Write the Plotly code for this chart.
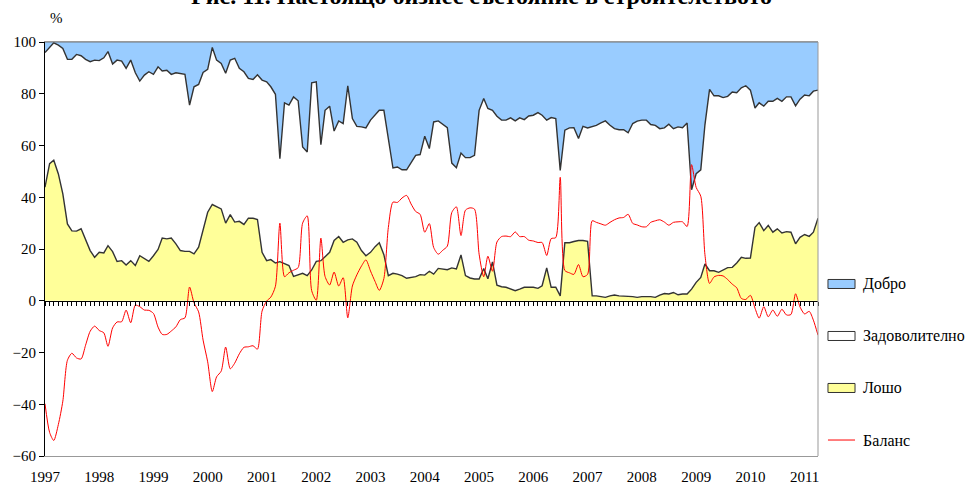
import pandas as pd
import plotly.graph_objects as go

start_month = "1997-01-01"
n_months = 172

losho = [43.9,53.0,54.3,49.0,41.3,29.7,27.0,26.9,27.8,23.9,
         19.4,16.8,18.7,18.5,21.3,19.0,15.2,15.5,13.8,15.5,
         13.6,17.4,16.4,15.2,17.4,19.8,24.2,23.9,24.2,22.0,
         19.4,19.1,19.1,18.1,20.7,27.0,34.2,37.2,36.4,35.5,
         30.0,33.3,30.4,30.7,29.5,31.9,31.9,31.4,18.7,15.5,
         15.9,14.6,15.1,14.2,13.6,9.4,9.9,10.6,9.7,11.9,
         15.2,15.5,17.0,18.7,23.3,24.8,22.6,23.5,23.9,22.6,
         19.4,17.4,18.7,20.9,22.4,17.8,9.7,10.6,10.3,9.7,
         8.7,9.0,9.3,10.1,9.9,11.4,10.3,12.5,12.3,12.0,
         12.7,12.3,17.7,9.7,8.8,8.4,8.4,12.5,8.5,15.0,
         6.0,5.4,5.2,4.5,3.9,4.5,5.2,5.2,5.2,4.8,
         5.8,12.7,5.2,5.2,1.9,22.4,22.4,22.9,23.3,23.3,
         23.0,1.9,1.9,1.6,1.3,1.9,2.2,1.9,1.7,1.7,
         1.6,1.3,1.6,1.6,1.6,1.3,2.2,2.8,2.6,3.2,
         2.3,2.6,2.6,4.5,7.1,9.0,14.2,11.6,11.6,11.0,
         11.9,12.8,12.9,14.6,16.8,16.4,16.5,28.4,30.2,27.1,
         29.1,26.5,27.8,26.2,26.7,26.5,22.0,24.5,25.6,24.9,
         26.5,31.9]

zadov = [52.0,44.9,45.4,49.8,56.2,63.6,66.3,68.3,66.9,69.4,
         73.0,76.2,74.1,75.4,75.0,72.5,77.8,77.1,76.0,77.5,
         74.5,67.5,70.8,73.3,70.1,70.6,64.6,65.2,63.3,66.1,
         68.5,68.4,56.5,64.6,62.9,61.2,55.2,60.7,56.6,56.2,
         57.9,59.7,63.3,59.1,59.0,54.0,53.6,55.9,66.6,69.1,
         66.8,65.2,39.8,62.3,62.0,69.4,67.4,48.8,47.8,72.3,
         69.4,44.8,56.6,56.5,42.3,44.7,45.9,59.6,46.5,44.8,
         47.8,49.4,51.1,50.8,51.2,55.8,52.3,40.7,41.4,40.9,
         41.9,44.6,46.9,46.4,53.7,47.4,58.8,57.0,55.9,54.9,
         40.5,39.1,39.4,45.6,46.5,47.8,65.2,65.7,65.8,58.6,
         65.3,64.4,64.6,66.2,65.6,66.2,64.8,66.2,66.5,67.9,
         65.9,57.1,65.6,65.2,48.5,43.5,44.4,44.0,39.4,44.1,
         43.8,65.3,65.9,67.1,68.2,65.9,64.3,64.2,64.4,63.2,
         66.9,68.1,68.2,68.2,66.5,66.5,64.3,64.0,65.6,63.3,
         64.9,64.3,66.1,38.4,42.0,41.6,53.8,70.1,67.6,68.2,
         66.6,66.2,67.8,65.8,65.5,66.7,64.9,46.1,46.3,48.1,
         48.0,50.6,50.4,50.9,52.1,52.3,53.3,53.4,53.9,54.3,
         54.5,49.5]

dobro = [4.1,2.1,0.3,1.2,2.5,6.7,6.7,4.8,5.3,6.7,
         7.6,7.0,7.2,6.1,3.7,8.5,7.0,7.4,10.2,7.0,
         11.9,15.1,12.8,11.5,12.5,9.6,11.2,10.9,12.5,11.9,
         12.1,12.5,24.4,17.3,16.4,11.8,10.6,2.1,7.0,8.3,
         12.1,7.0,6.3,10.2,11.5,14.1,14.5,12.7,14.7,15.4,
         17.3,20.2,45.1,23.5,24.4,21.2,22.7,40.6,42.5,15.8,
         15.4,39.7,26.4,24.8,34.4,30.5,31.5,16.9,29.6,32.6,
         32.8,33.2,30.2,28.3,26.4,26.4,38.0,48.7,48.3,49.4,
         49.4,46.4,43.8,43.5,36.4,41.2,30.9,30.5,31.8,33.1,
         46.8,48.6,42.9,44.7,44.7,43.8,26.4,21.8,25.7,26.4,
         28.7,30.2,30.2,29.3,30.5,29.3,30.0,28.6,28.3,27.3,
         28.3,30.2,29.2,29.6,49.6,34.1,33.2,33.1,37.3,32.6,
         33.2,32.8,32.2,31.3,30.5,32.2,33.5,33.9,33.9,35.1,
         31.5,30.6,30.2,30.2,31.9,32.2,33.5,33.2,31.8,33.5,
         32.8,33.1,31.3,57.1,50.9,49.4,32.0,18.3,20.8,20.8,
         21.5,21.0,19.3,19.6,17.7,16.9,18.6,25.5,23.5,24.8,
         22.9,22.9,21.8,22.9,21.2,21.2,24.7,22.1,20.5,20.8,
         19.0,18.6]

balans = [-39.8,-50.9,-54.0,-47.8,-38.8,-23.0,-20.3,-22.1,-22.5,-17.2,
          -11.8,-9.8,-11.5,-12.4,-17.6,-10.5,-8.2,-8.1,-3.6,-8.5,
          -1.7,-2.3,-3.6,-3.7,-4.9,-10.2,-13.0,-13.0,-11.7,-10.1,
          -7.3,-6.6,5.3,-0.8,-4.3,-15.2,-23.6,-35.1,-29.4,-27.2,
          -17.9,-26.3,-24.1,-20.5,-18.0,-17.8,-17.4,-18.7,-4.0,-0.1,
          1.4,5.6,30.0,9.3,10.8,11.8,12.8,30.0,32.8,3.9,
          0.2,24.2,9.4,6.1,11.1,5.7,8.9,-6.6,5.7,10.0,
          13.4,15.8,11.5,7.4,4.0,8.6,28.3,38.1,38.0,39.7,
          40.7,37.4,34.5,33.4,26.5,29.8,20.6,18.0,19.5,21.1,
          34.1,36.3,25.2,35.0,35.9,35.4,18.0,9.3,17.2,11.4,
          22.7,24.8,25.0,24.8,26.6,24.8,24.8,23.4,23.1,22.5,
          22.5,17.5,24.0,24.4,47.7,11.7,10.8,10.2,14.0,9.3,
          10.2,30.9,30.3,29.7,29.2,30.3,31.3,32.0,32.2,33.4,
          29.9,29.3,28.6,28.6,30.3,30.9,31.3,30.4,29.2,30.3,
          30.5,30.5,28.7,52.6,43.8,40.4,17.8,6.7,9.2,9.8,
          9.6,8.2,6.4,5.0,0.9,0.5,2.1,-2.9,-6.7,-2.3,
          -6.2,-3.6,-6.0,-3.3,-5.5,-5.3,2.7,-2.4,-5.1,-4.1,
          -7.5,-13.3]

series_names = ["Добро", "Задоволително", "Лошо", "Баланс"]
title_text = "Рис. 11. Настоящо бизнес състояние в строителството"

dates = pd.date_range(start_month, periods=n_months, freq="MS")
FONT = "Liberation Serif, Times New Roman, serif"

fig = go.Figure()
fig.add_trace(go.Scatter(x=dates, y=losho, name=series_names[2], stackgroup="s",
                         mode="lines", line=dict(color="#333333", width=1.4),
                         fillcolor="#FFFF99", showlegend=False))
fig.add_trace(go.Scatter(x=dates, y=zadov, name=series_names[1], stackgroup="s",
                         mode="lines", line=dict(color="#333333", width=1.4),
                         fillcolor="#FFFFFF", showlegend=False))
fig.add_trace(go.Scatter(x=dates, y=dobro, name=series_names[0], stackgroup="s",
                         mode="lines", line=dict(color="#777777", width=1),
                         fillcolor="#99CCFF", showlegend=False))
fig.add_trace(go.Scatter(x=dates, y=balans, name=series_names[3], mode="lines",
                         xaxis="x2",
                         line=dict(color="#FF0000", width=1, shape="spline", smoothing=0.7),
                         showlegend=False))

# manual legend (Excel-like rectangles), positioned in paper coordinates
legend_fills = ["#99CCFF", "#FFFFFF", "#FFFF99", None]
legend_y = [0.4155, 0.2899, 0.1643, 0.0386]
sx0, sx1, tx = 1.0129, 1.0479, 1.0556
half_h = 0.0109
shapes = [dict(type="line", xref="paper", yref="paper", x0=1, x1=1, y0=0, y1=1,
               line=dict(color="#999999", width=1), layer="above")]
annotations = []
for name, fill, yy in zip(series_names, legend_fills, legend_y):
    if fill is None:
        shapes.append(dict(type="line", xref="paper", yref="paper", x0=sx0, x1=sx1,
                           y0=yy, y1=yy, line=dict(color="#FF0000", width=1)))
    else:
        shapes.append(dict(type="rect", xref="paper", yref="paper", x0=sx0, x1=sx1,
                           y0=yy - half_h, y1=yy + half_h, fillcolor=fill,
                           line=dict(color="#333333", width=1)))
    annotations.append(dict(text=name, xref="paper", yref="paper", x=tx, y=yy,
                            xanchor="left", yanchor="middle", showarrow=False,
                            font=dict(family=FONT, size=16, color="black")))

annotations.append(dict(text="%", xref="paper", yref="paper", x=0.004, y=1.058,
                        xanchor="left", yanchor="middle", showarrow=False,
                        font=dict(family=FONT, size=15, color="black")))
annotations.append(dict(text="<b>" + title_text + "</b>", xref="paper", yref="paper",
                        x=0.5653, y=1.110, xanchor="center", yanchor="middle",
                        showarrow=False, font=dict(family=FONT, size=24, color="black")))

xr = [dates[0], dates[-1]]
fig.update_layout(
    width=967, height=486,
    margin=dict(l=45, r=149, t=42, b=30, autoexpand=False),
    paper_bgcolor="white", plot_bgcolor="white",
    font=dict(family=FONT, size=15, color="black"),
    showlegend=False,
    xaxis=dict(type="date", range=xr, showgrid=False, zeroline=False, automargin=False,
               showline=True, linecolor="#999999", linewidth=1, mirror=True,
               ticks="", dtick="M12", tick0=start_month, tickformat="%Y",
               ticklabelstandoff=7,
               tickfont=dict(family=FONT, size=15, color="black")),
    xaxis2=dict(type="date", range=xr, overlaying="x", anchor="free", automargin=False,
                position=0.375, side="bottom", showgrid=False, zeroline=False,
                showline=True, linecolor="black", linewidth=1,
                ticks="outside", ticklen=4, tickcolor="black", tickwidth=1,
                dtick="M1", tick0=start_month, showticklabels=False),
    yaxis=dict(range=[-60, 100], dtick=20, showgrid=False, zeroline=False, automargin=False,
               showline=True, linecolor="black", linewidth=1,
               ticks="outside", ticklen=5, tickcolor="black",
               tickfont=dict(family=FONT, size=15, color="black")),
    shapes=shapes,
    annotations=annotations,
)

fig.write_html("out.html", config={"displayModeBar": False},
               post_script="document.body.style.margin='0';document.body.style.overflow='hidden';")
